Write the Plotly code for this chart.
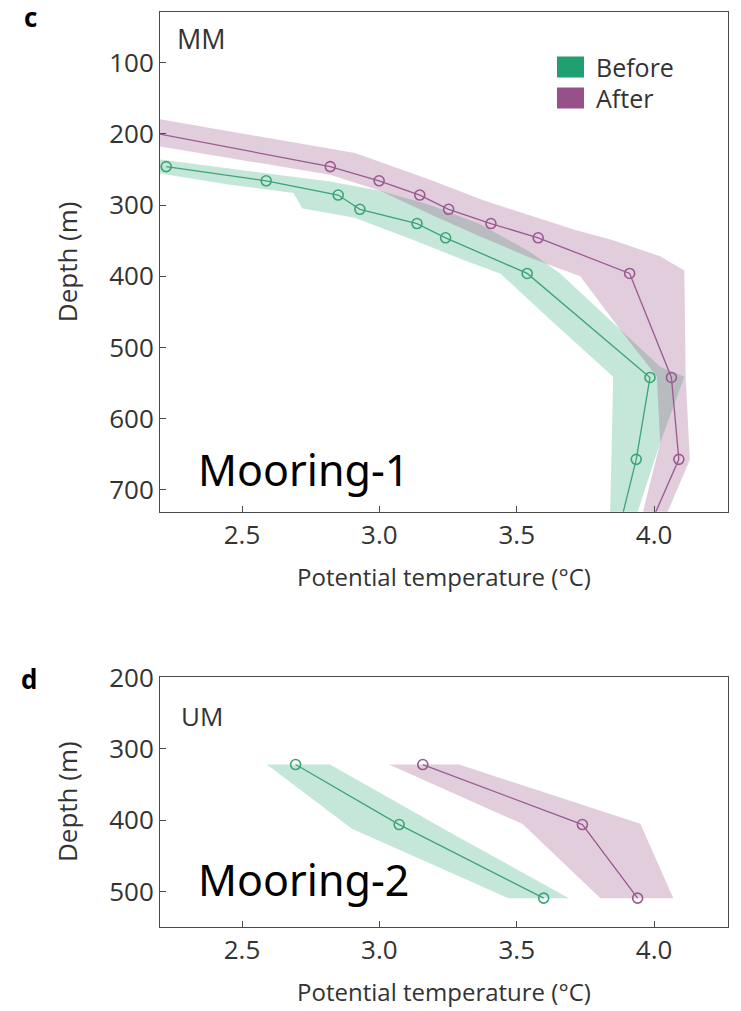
import plotly.graph_objects as go

# ---------------- data ----------------
# Mooring-1 (MM)
mm_before_depth = [246, 266, 286, 306, 326, 346, 396, 542, 657, 790]
mm_before_temp = [2.224, 2.588, 2.850, 2.929, 3.137, 3.241, 3.538, 3.985, 3.935, 3.850]
mm_after_depth = [190, 246, 266, 286, 306, 326, 346, 396, 542, 657, 790]
mm_after_temp = [2.059, 2.821, 2.999, 3.147, 3.252, 3.406, 3.578, 3.911, 4.063, 4.090, 3.939]

# uncertainty envelopes: warm (upper) edge and cold (lower) edge
mm_before_hi_t = [2.10, 2.207, 2.567, 2.82, 3.003, 3.185, 3.367, 3.549, 3.658, 3.877, 4.022, 4.11, 4.022, 3.942, 3.91]
mm_before_hi_d = [231, 236.5, 255, 267, 280, 300, 327, 366, 396, 475, 527, 541, 634, 728, 790]
mm_before_lo_t = [2.10, 2.207, 2.45, 2.687, 2.72, 2.91, 3.124, 3.306, 3.44, 3.622, 3.851, 3.845, 3.84, 3.83]
mm_before_lo_d = [250, 256, 271, 283, 305, 318, 349, 377, 396, 461, 541, 650, 730, 790]

mm_after_hi_t = [2.05, 2.207, 2.911, 3.187, 3.376, 3.713, 3.848, 4.022, 4.11, 4.115, 4.13, 4.05, 4.02]
mm_after_hi_d = [172, 180, 227, 265, 293, 335, 349, 372, 392, 541, 658, 730, 790]
mm_after_lo_t = [2.05, 2.207, 2.82, 3.003, 3.185, 3.367, 3.549, 3.731, 3.877, 4.01, 4.022, 3.961, 3.94]
mm_after_lo_d = [210, 218, 257.6, 280, 313, 344, 374, 400, 475, 541, 634, 728, 790]

# Mooring-2 (UM)
um_depth = [322, 406, 509]
um_before_temp = [2.695, 3.072, 3.598]
um_after_temp = [3.158, 3.739, 3.940]

um_before_hi_t = [2.82, 3.28, 3.69]
um_before_hi_d = [322, 422, 509]
um_before_lo_t = [2.59, 2.90, 3.47]
um_before_lo_d = [322, 412, 509]

um_after_hi_t = [3.29, 3.95, 4.07]
um_after_hi_d = [322, 405, 509]
um_after_lo_t = [3.035, 3.52, 3.805]
um_after_lo_d = [322, 405, 509]

x_ticks = [2.5, 3.0, 3.5, 4.0]
x_tick_text = ["2.5", "3.0", "3.5", "4.0"]
mm_y_ticks = [100, 200, 300, 400, 500, 600, 700]
um_y_ticks = [200, 300, 400, 500]

series_names = ["Before", "After"]

# ---------------- styling ----------------
W, H = 741, 1011
FONT = "Open Sans"
TXT = "#333333"
AX = "#4a4a4a"
GREEN_LINE = "#3ea477"
PURPLE_LINE = "#9a5a91"
GREEN_FILL = "rgba(58,175,128,0.30)"
PURPLE_FILL = "rgba(155,88,138,0.30)"
GREEN_KEY = "#21a06f"
PURPLE_KEY = "#975089"

fig = go.Figure()


def band(xhi, yhi, xlo, ylo, color, xa, ya):
    xs = list(xhi) + list(reversed(xlo))
    ys = list(yhi) + list(reversed(ylo))
    fig.add_trace(go.Scatter(x=xs, y=ys, mode="lines", fill="toself", fillcolor=color,
                             line=dict(width=0), hoverinfo="skip", showlegend=False,
                             xaxis=xa, yaxis=ya))


def profile(t, d, color, xa, ya, name):
    fig.add_trace(go.Scatter(x=t, y=d, mode="lines+markers", name=name,
                             line=dict(color=color, width=1.3),
                             marker=dict(symbol="circle-open", size=10, color=color,
                                         line=dict(width=1.6, color=color)),
                             showlegend=False, xaxis=xa, yaxis=ya))


band(mm_before_hi_t, mm_before_hi_d, mm_before_lo_t, mm_before_lo_d, GREEN_FILL, "x", "y")
band(mm_after_hi_t, mm_after_hi_d, mm_after_lo_t, mm_after_lo_d, PURPLE_FILL, "x", "y")
profile(mm_before_temp, mm_before_depth, GREEN_LINE, "x", "y", series_names[0])
profile(mm_after_temp, mm_after_depth, PURPLE_LINE, "x", "y", series_names[1])

band(um_before_hi_t, um_before_hi_d, um_before_lo_t, um_before_lo_d, GREEN_FILL, "x2", "y2")
band(um_after_hi_t, um_after_hi_d, um_after_lo_t, um_after_lo_d, PURPLE_FILL, "x2", "y2")
profile(um_before_temp, um_depth, GREEN_LINE, "x2", "y2", series_names[0])
profile(um_after_temp, um_depth, PURPLE_LINE, "x2", "y2", series_names[1])

x_range = [2.2014, 4.269]
dom_x = [160 / W, 728 / W]
top_dom = [1 - 511.7 / H, 1 - 12 / H]
bot_dom = [1 - 926.7 / H, 1 - 676.7 / H]

axis_common = dict(showline=True, linecolor=AX, linewidth=1, mirror=True,
                   ticks="inside", ticklen=6, tickwidth=1, tickcolor=AX,
                   showgrid=False, zeroline=False, automargin=False,
                   tickfont=dict(family=FONT, size=26, color=TXT))

xt = dict(text="Potential temperature (°C)", font=dict(family=FONT, size=24, color=TXT), standoff=18)
yt = dict(text="Depth (m)", font=dict(family=FONT, size=26, color=TXT), standoff=24)

fig.update_layout(
    width=W, height=H,
    margin=dict(l=0, r=0, t=0, b=0, pad=0, autoexpand=False),
    paper_bgcolor="white", plot_bgcolor="white",
    showlegend=False,
    xaxis=dict(domain=dom_x, range=x_range, anchor="y", tickvals=x_ticks, ticktext=x_tick_text,
               title=xt, **axis_common),
    yaxis=dict(domain=top_dom, range=[730.5, 29], anchor="x", tickvals=mm_y_ticks,
               title=yt, **axis_common),
    xaxis2=dict(domain=dom_x, range=x_range, anchor="y2", tickvals=x_ticks, ticktext=x_tick_text,
                title=xt, **axis_common),
    yaxis2=dict(domain=bot_dom, range=[549, 199], anchor="x2", tickvals=um_y_ticks,
                title=yt, **axis_common),
)

ann = []
ann.append(dict(text="MM", x=0.026, y=0.946, xref="x domain", yref="y domain",
                xanchor="left", yanchor="middle", showarrow=False,
                font=dict(family=FONT, size=27, color=TXT)))
ann.append(dict(text="UM", x=0.033, y=0.844, xref="x2 domain", yref="y2 domain",
                xanchor="left", yanchor="middle", showarrow=False,
                font=dict(family=FONT, size=26, color=TXT)))
ann.append(dict(text="Mooring-1", x=0.063, y=0.085, xref="x domain", yref="y domain",
                xanchor="left", yanchor="middle", showarrow=False,
                font=dict(family="Noto Sans", size=43, color="black")))
ann.append(dict(text="Mooring-2", x=0.063, y=0.187, xref="x2 domain", yref="y2 domain",
                xanchor="left", yanchor="middle", showarrow=False,
                font=dict(family="Noto Sans", size=43, color="black")))
ann.append(dict(text="<b>c</b>", x=30 / W, y=1 - 17 / H, xref="paper", yref="paper",
                xanchor="center", yanchor="middle", showarrow=False,
                font=dict(family=FONT, size=26, color="black")))
ann.append(dict(text="<b>d</b>", x=29 / W, y=1 - 679 / H, xref="paper", yref="paper",
                xanchor="center", yanchor="middle", showarrow=False,
                font=dict(family=FONT, size=26, color="black")))

# legend (key swatches + labels)
shapes = []
for i, (name, col) in enumerate(zip(series_names, [GREEN_KEY, PURPLE_KEY])):
    yc = 67 + i * 31
    shapes.append(dict(type="rect", xref="paper", yref="paper",
                       x0=557 / W, x1=584 / W, y0=1 - (yc + 10.5) / H, y1=1 - (yc - 10.5) / H,
                       fillcolor=col, line=dict(width=0)))
    ann.append(dict(text=name, x=594 / W, y=1 - yc / H, xref="paper", yref="paper",
                    xanchor="left", yanchor="middle", showarrow=False,
                    font=dict(family=FONT, size=25, color=TXT)))

fig.update_layout(annotations=ann, shapes=shapes)

fig.write_html("out.html")
